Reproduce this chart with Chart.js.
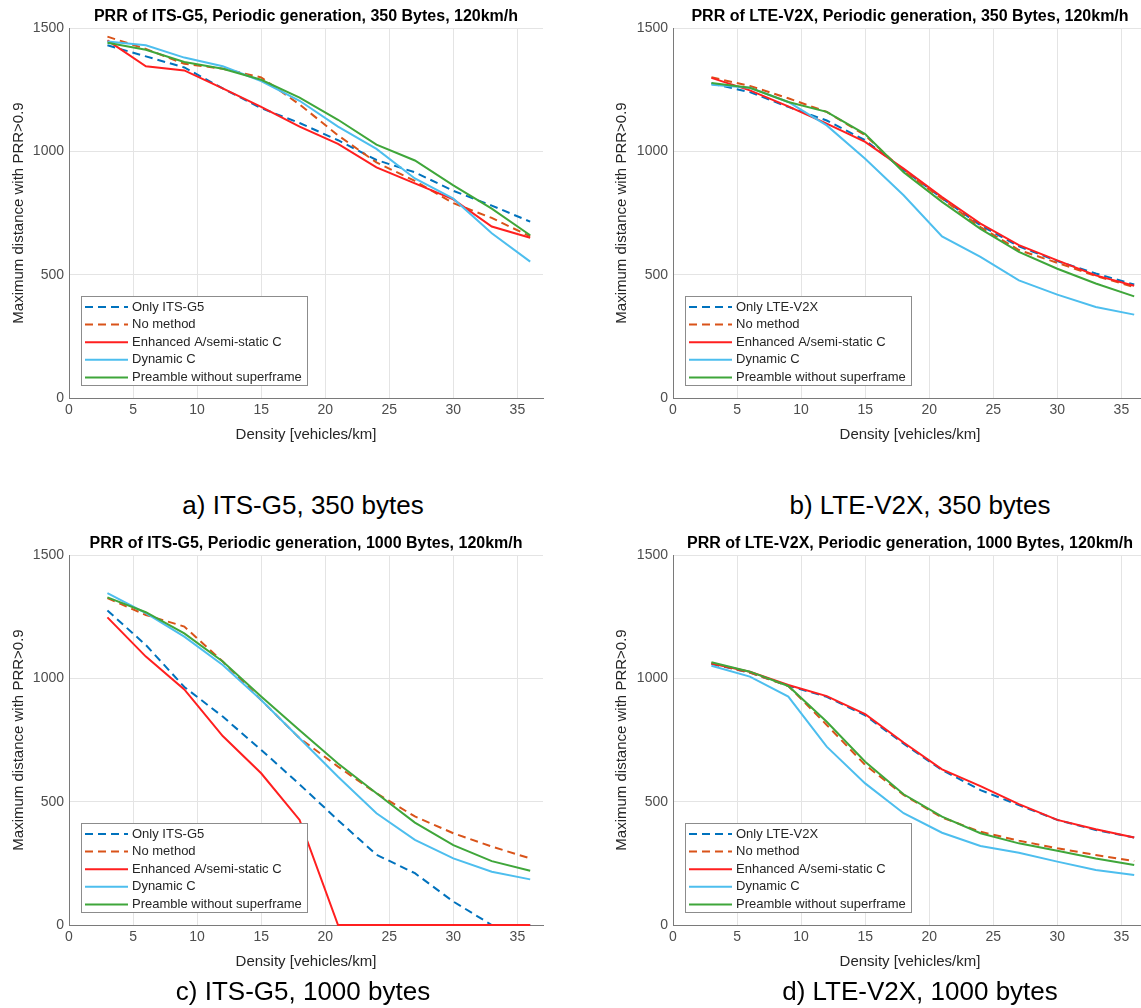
<!DOCTYPE html>
<html>
<head>
<meta charset="utf-8">
<script src="https://cdn.jsdelivr.net/npm/chart.js@4.4.1/dist/chart.umd.min.js"></script>
<style>
  html, body { margin: 0; padding: 0; background: #fff; overflow: hidden; }
  body { width: 1141px; height: 1008px; position: relative; font-family: "Liberation Sans", Arial, sans-serif; }
  canvas { position: absolute; }
  .cap { position: absolute; font-size: 26px; color: #000; text-align: center; width: 400px; line-height: 30px; }
</style>
</head>
<body>
<canvas id="chartA" width="560" height="450" style="left:0px;top:0px"></canvas>
<canvas id="chartB" width="590" height="450" style="left:570px;top:0px"></canvas>
<canvas id="chartC" width="560" height="450" style="left:0px;top:527px"></canvas>
<canvas id="chartD" width="590" height="450" style="left:570px;top:527px"></canvas>
<div class="cap" style="left:103px;top:490px">a) ITS-G5, 350 bytes</div>
<div class="cap" style="left:720px;top:490px">b) LTE-V2X, 350 bytes</div>
<div class="cap" style="left:103px;top:976px">c) ITS-G5, 1000 bytes</div>
<div class="cap" style="left:720px;top:976px">d) LTE-V2X, 1000 bytes</div>
<script>
// x values (density, vehicles/km)
const density = [3, 6, 9, 12, 15, 18, 21, 24, 27, 30, 33, 36];
const xTicks = [0, 5, 10, 15, 20, 25, 30, 35];
const yTicks = [0, 500, 1000, 1500];

// a) ITS-G5, 350 bytes
const a_only      = [1430, 1385, 1340, 1255, 1175, 1115, 1045, 965, 915, 840, 780, 715];
const a_noMethod  = [1465, 1415, 1355, 1335, 1300, 1190, 1065, 955, 880, 790, 730, 655];
const a_enhanced  = [1450, 1345, 1328, 1255, 1180, 1100, 1030, 935, 870, 805, 695, 650];
const a_dynamic   = [1445, 1430, 1380, 1345, 1285, 1205, 1100, 1010, 890, 808, 668, 553];
const a_preamble  = [1440, 1412, 1362, 1335, 1290, 1218, 1128, 1027, 963, 862, 768, 660];

// b) LTE-V2X, 350 bytes
const b_only      = [1275, 1240, 1180, 1125, 1045, 925, 810, 700, 615, 555, 505, 460];
const b_noMethod  = [1300, 1265, 1215, 1160, 1065, 920, 808, 693, 600, 548, 495, 450];
const b_enhanced  = [1298, 1247, 1182, 1112, 1038, 930, 815, 707, 620, 558, 497, 455];
const b_dynamic   = [1270, 1258, 1200, 1105, 970, 822, 655, 572, 477, 419, 369, 338];
const b_preamble  = [1277, 1258, 1200, 1160, 1070, 915, 795, 686, 592, 524, 464, 412];

// c) ITS-G5, 1000 bytes
const c_only      = [1275, 1135, 965, 845, 710, 570, 425, 285, 210, 95, 0, 0];
const c_noMethod  = [1325, 1257, 1210, 1068, 912, 757, 642, 534, 440, 372, 318, 270];
const c_enhanced  = [1247, 1088, 955, 766, 615, 426, 0, 0, 0, 0, 0, 0];
const c_dynamic   = [1345, 1264, 1169, 1054, 912, 757, 601, 453, 345, 270, 216, 185];
const c_preamble  = [1328, 1268, 1182, 1068, 926, 790, 655, 534, 415, 324, 259, 220];

// d) LTE-V2X, 1000 bytes
const d_only      = [1058, 1023, 970, 925, 850, 735, 628, 547, 486, 426, 385, 355];
const d_noMethod  = [1061, 1023, 969, 811, 649, 527, 436, 378, 342, 311, 284, 259];
const d_enhanced  = [1060, 1027, 973, 928, 855, 740, 631, 563, 490, 426, 388, 355];
const d_dynamic   = [1051, 1007, 926, 723, 574, 453, 374, 320, 293, 257, 223, 203];
const d_preamble  = [1065, 1027, 969, 824, 662, 530, 439, 372, 331, 301, 270, 243];

const otherNames = ['No method', 'Enhanced A/semi-static C', 'Dynamic C', 'Preamble without superframe'];
const colors = ['#0072BD', '#D95319', '#FF1F1F', '#4DBEEE', '#3FA63A'];
const dashes = [[8, 5], [8, 5], [], [], []];

const FONT = '"Liberation Sans", Arial, sans-serif';

// legend box drawn inside the plot, bottom left (like matlab 'southwest')
const insideLegend = {
  id: 'insideLegend',
  afterDraw(chart) {
    const ctx = chart.ctx;
    const area = chart.chartArea;
    const x = area.left + 12, y = area.bottom - 102, w = 226, h = 89;
    ctx.save();
    ctx.fillStyle = '#fff';
    ctx.fillRect(x, y, w, h);
    ctx.strokeStyle = '#8c8c8c';
    ctx.lineWidth = 1;
    ctx.strokeRect(x + 0.5, y + 0.5, w, h);
    ctx.font = '13px ' + FONT;
    ctx.textBaseline = 'middle';
    chart.data.datasets.forEach((ds, i) => {
      const ry = y + 11 + i * 17.6;
      ctx.strokeStyle = ds.borderColor;
      ctx.lineWidth = 2;
      ctx.setLineDash(ds.borderDash);
      ctx.beginPath();
      ctx.moveTo(x + 4, ry);
      ctx.lineTo(x + 47, ry);
      ctx.stroke();
      ctx.setLineDash([]);
      ctx.fillStyle = '#262626';
      ctx.fillText(ds.label, x + 51, ry);
    });
    ctx.restore();
  }
};

function makeChart(id, title, onlyName, series, yWidth, yTitlePad, rightPad) {
  const names = [onlyName].concat(otherNames);
  const datasets = series.map((vals, i) => ({
    label: names[i],
    data: vals.map((v, k) => ({ x: density[k], y: v })),
    borderColor: colors[i],
    borderDash: dashes[i],
    borderWidth: 2,
    pointRadius: 0,
    tension: 0,
    fill: false,
    clip: 5,
    order: 5 - i
  }));

  return new Chart(document.getElementById(id), {
    type: 'line',
    data: { datasets: datasets },
    options: {
      responsive: false,
      animation: false,
      devicePixelRatio: 1,
      layout: { padding: { left: 0, right: rightPad, top: 0, bottom: 0 } },
      plugins: {
        legend: { display: false },
        tooltip: { enabled: false },
        title: {
          display: true,
          text: title,
          fullSize: false,
          color: '#000',
          font: { family: FONT, size: 16, weight: 'bold' },
          padding: { top: 6.5, bottom: 2.3 }
        }
      },
      scales: {
        x: {
          type: 'linear',
          min: 0,
          max: 37,
          afterBuildTicks: (s) => { s.ticks = xTicks.map(v => ({ value: v })); },
          afterFit: (s) => { s.height = 52; },
          ticks: { color: '#4d4d4d', font: { family: FONT, size: 14 }, padding: 4, maxRotation: 0 },
          grid: { color: '#e4e4e4', drawTicks: false },
          border: { color: '#7a7a7a', width: 1 },
          title: {
            display: true,
            text: 'Density [vehicles/km]',
            color: '#262626',
            font: { family: FONT, size: 15 },
            padding: { top: 0, bottom: 6 }
          }
        },
        y: {
          min: 0,
          max: 1500,
          afterBuildTicks: (s) => { s.ticks = yTicks.map(v => ({ value: v })); },
          afterFit: (s) => { s.width = yWidth; },
          ticks: { color: '#4d4d4d', font: { family: FONT, size: 14 }, padding: 5, callback: (v) => String(v) },
          grid: { color: '#e4e4e4', drawTicks: false },
          border: { color: '#7a7a7a', width: 1 },
          title: {
            display: true,
            text: 'Maximum distance with PRR>0.9',
            color: '#262626',
            font: { family: FONT, size: 15 },
            padding: { top: yTitlePad, bottom: 0 }
          }
        }
      }
    },
    plugins: [insideLegend]
  });
}

makeChart('chartA', 'PRR of ITS-G5, Periodic generation, 350 Bytes, 120km/h', 'Only ITS-G5',
  [a_only, a_noMethod, a_enhanced, a_dynamic, a_preamble], 69, 10, 17);
makeChart('chartB', 'PRR of LTE-V2X, Periodic generation, 350 Bytes, 120km/h', 'Only LTE-V2X',
  [b_only, b_noMethod, b_enhanced, b_dynamic, b_preamble], 103, 43, 13);
makeChart('chartC', 'PRR of ITS-G5, Periodic generation, 1000 Bytes, 120km/h', 'Only ITS-G5',
  [c_only, c_noMethod, c_enhanced, c_dynamic, c_preamble], 69, 10, 17);
makeChart('chartD', 'PRR of LTE-V2X, Periodic generation, 1000 Bytes, 120km/h', 'Only LTE-V2X',
  [d_only, d_noMethod, d_enhanced, d_dynamic, d_preamble], 103, 43, 13);
</script>
</body>
</html>
